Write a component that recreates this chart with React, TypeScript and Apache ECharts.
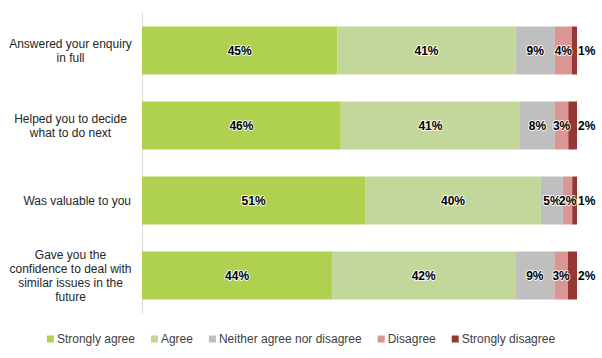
import React, { useEffect, useRef } from "react";
import * as echarts from "echarts";

const categories = [
  "Answered your enquiry\nin full",
  "Helped you to decide\nwhat to do next",
  "Was valuable to you",
  "Gave you the\nconfidence to deal with\nsimilar issues in the\nfuture",
];
const seriesNames = ["Strongly agree", "Agree", "Neither agree nor disagree", "Disagree", "Strongly disagree"];
const stronglyAgree = [44.9, 45.7, 51.3, 43.7];
const agree = [41.0, 41.2, 40.4, 42.1];
const neither = [9.0, 8.0, 5.1, 9.0];
const disagree = [3.9, 3.1, 2.1, 3.1];
const stronglyDisagree = [1.2, 2.0, 1.1, 2.1];
const colors = ["#b0d050", "#c4d79b", "#bfbfbf", "#d99694", "#953735"];

export default function App() {
  const ref = useRef<HTMLDivElement>(null);
  useEffect(() => {
    if (!ref.current) return;
    const chart = echarts.init(ref.current, null, { renderer: "svg" });
    const values = [stronglyAgree, agree, neither, disagree, stronglyDisagree];
    const font = "Liberation Sans, Arial, sans-serif";
    const labelStyle = {
      show: true,
      fontFamily: font,
      fontSize: 12,
      fontWeight: "bold" as const,
      color: "#000",
      textBorderColor: "rgba(255,255,255,0.85)",
      textBorderWidth: 2,
      formatter: (p: any) => Math.round(p.value) + "%",
    };
    chart.setOption({
      animation: false,
      color: colors,
      grid: { left: 142, right: 25, top: 13, bottom: 45, containLabel: false, outerBoundsMode: "none" },
      xAxis: { type: "value", min: 0, max: 100, show: false },
      yAxis: {
        type: "category",
        inverse: true,
        data: categories,
        axisLine: { show: true, lineStyle: { color: "#d9d9d9", width: 1 } },
        axisTick: { show: false },
        axisLabel: {
          fontFamily: font,
          fontSize: 12,
          color: "#262626",
          align: "center",
          margin: 71.5,
          lineHeight: 14,
          formatter: (v: string) => (v.indexOf("\n") < 0 ? "{r|" + v + "}" : v),
          rich: {
            r: { width: 121, align: "right", fontFamily: font, fontSize: 12, color: "#262626" },
          },
        },
      },
      legend: {
        bottom: 8,
        left: "center",
        icon: "rect",
        itemWidth: 7,
        itemHeight: 7,
        itemGap: 16,
        textStyle: { fontFamily: font, fontSize: 12, color: "#404040", padding: [0, 0, 0, -2] },
        data: seriesNames,
      },
      series: seriesNames.map((name, i) => ({
        name,
        type: "bar",
        stack: "total",
        barCategoryGap: "36%",
        data: values[i],
        label: {
          ...labelStyle,
          position: i === 4 ? "right" : "inside",
          distance: i === 4 ? 1 : 5,
        },
      })),
    });
    return () => chart.dispose();
  }, []);
  return (
    <div
      ref={ref}
      style={{ position: "absolute", left: 0, top: 0, width: 602, height: 358, background: "#fff" }}
    />
  );
}
